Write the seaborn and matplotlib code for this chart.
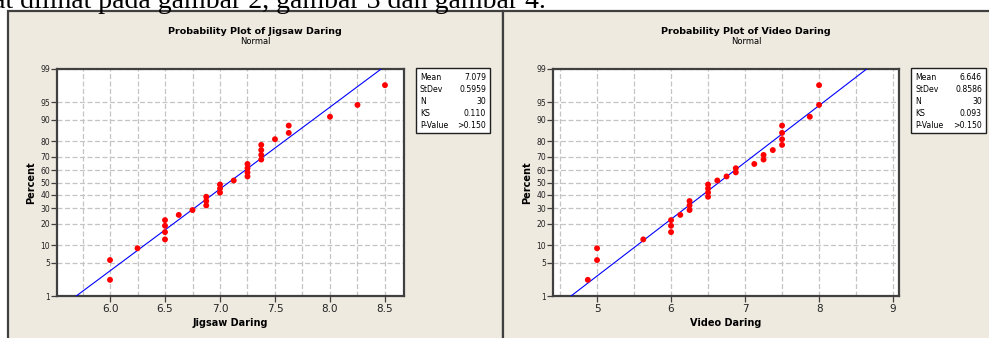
import numpy as np
import matplotlib
matplotlib.use('Agg')
import matplotlib.pyplot as plt
import seaborn as sns
from statistics import NormalDist
from matplotlib.patches import Rectangle
from matplotlib.ticker import FixedLocator, MultipleLocator

# values
jigsaw = [6.0, 6.0, 6.25, 6.5, 6.5, 6.5, 6.5, 6.625, 6.75, 6.875, 6.875, 6.875,
          7.0, 7.0, 7.0, 7.125, 7.25, 7.25, 7.25, 7.25, 7.375, 7.375, 7.375, 7.375,
          7.5, 7.625, 7.625, 8.0, 8.25, 8.5]
video = [4.875, 5.0, 5.0, 5.625, 6.0, 6.0, 6.0, 6.125, 6.25, 6.25, 6.25,
         6.5, 6.5, 6.5, 6.5, 6.625, 6.75, 6.875, 6.875, 7.125, 7.25, 7.25, 7.375,
         7.5, 7.5, 7.5, 7.5, 7.875, 8.0, 8.0]

stat_names = ['Mean', 'StDev', 'N', 'KS', 'P-Value']
stats_jigsaw = ['7.079', '0.5959', '30', '0.110', '>0.150']
stats_video = ['6.646', '0.8586', '30', '0.093', '>0.150']

pct_ticks = [1, 5, 10, 20, 30, 40, 50, 60, 70, 80, 90, 95, 99]
jig_ticks = [6.0, 6.5, 7.0, 7.5, 8.0, 8.5]
jig_labels = ['6.0', '6.5', '7.0', '7.5', '8.0', '8.5']
vid_ticks = [5, 6, 7, 8, 9]
vid_labels = ['5', '6', '7', '8', '9']

W, H = 989, 338
BEIGE = '#eeeae0'
EDGE = '#404040'
GRID = '#c4c4c4'

sns.set_theme(style='white')
plt.rcParams['font.family'] = ['DejaVu Sans']
plt.rcParams['text.color'] = 'black'
plt.rcParams['axes.labelcolor'] = 'black'
plt.rcParams['xtick.color'] = '#222222'
plt.rcParams['ytick.color'] = '#222222'

nd = NormalDist()
fwd = np.vectorize(lambda p: nd.inv_cdf(min(max(p / 100.0, 1e-6), 1 - 1e-6)), otypes=[float])
inv = np.vectorize(lambda z: nd.cdf(z) * 100.0, otypes=[float])

fig = plt.figure(figsize=(W / 100, H / 100), dpi=100)
fig.patch.set_facecolor('white')


def fx(px):
    return px / W


def fy(py):
    return 1 - py / H


# page text above the figures (cut at the top, as in the scan)
fig.text(fx(546), fy(8), 'dapat dilihat pada gambar 2, gambar 3 dan gambar 4.',
         ha='right', va='baseline', fontsize=20, family='Liberation Serif', color='black')

# panel backgrounds
for x0, x1 in [(8, 503), (503, 992)]:
    fig.patches.append(Rectangle((fx(x0), fy(345)), fx(x1 - x0), (345 - 11) / H,
                                 transform=fig.transFigure, facecolor=BEIGE,
                                 edgecolor=EDGE, lw=1.6, zorder=0))

panels = [
    dict(data=jigsaw, stats=stats_jigsaw, title='Probability Plot of Jigsaw Daring',
         xlabel='Jigsaw Daring', xlim=(5.518, 8.673), ticks=jig_ticks, labels=jig_labels,
         minor=0.25, ax_px=(57, 404), box_px=(416, 490), cx=255),
    dict(data=video, stats=stats_video, title='Probability Plot of Video Daring',
         xlabel='Video Daring', xlim=(4.405, 9.08), ticks=vid_ticks, labels=vid_labels,
         minor=0.5, ax_px=(553, 899), box_px=(911, 986), cx=746),
]

for p in panels:
    a0, a1 = p['ax_px']
    ax = fig.add_axes([fx(a0), fy(296), fx(a1 - a0), (296 - 69) / H])
    ax.set_facecolor('white')
    ax.set_zorder(2)

    vals = np.sort(np.asarray(p['data']))
    n = len(vals)
    pos = (np.arange(1, n + 1) - 0.3) / (n + 0.4) * 100.0
    mean, sd = vals.mean(), vals.std(ddof=1)
    z_end = np.array([-4.0, 4.0])
    line_x = mean + sd * z_end
    line_y = inv(z_end)

    ax.set_yscale('function', functions=(fwd, inv))
    sns.lineplot(x=line_x, y=line_y, ax=ax, color='#0000ff', lw=0.8, sort=False, zorder=3)
    sns.scatterplot(x=vals, y=pos, ax=ax, color='#ff0000', s=18, edgecolor='none',
                    linewidth=0, zorder=4)

    ax.set_xlim(*p['xlim'])
    ax.set_ylim(1, 99)
    ax.yaxis.set_major_locator(FixedLocator(pct_ticks))
    ax.set_yticklabels([str(t) for t in pct_ticks])
    ax.yaxis.set_minor_locator(FixedLocator([]))
    ax.set_xticks(p['ticks'])
    ax.set_xticklabels(p['labels'])
    ax.xaxis.set_minor_locator(MultipleLocator(p['minor']))

    ax.grid(True, which='both', axis='x', color=GRID, ls=(0, (4, 2)), lw=0.9)
    ax.grid(True, which='major', axis='y', color=GRID, ls=(0, (4, 2)), lw=0.9)
    ax.tick_params(axis='x', which='major', direction='out', length=4, width=0.9,
                   color=EDGE, labelsize=7.5, pad=2, bottom=True)
    ax.tick_params(axis='x', which='minor', length=0)
    ax.tick_params(axis='y', which='major', direction='out', length=4, width=0.9,
                   color=EDGE, labelsize=5.5, pad=1, left=True)
    for s in ax.spines.values():
        s.set_color(EDGE)
        s.set_linewidth(1.6)

    ax.set_xlabel(p['xlabel'], fontsize=7, fontweight='bold', labelpad=3)
    ax.set_ylabel('Percent', fontsize=7, fontweight='bold', labelpad=3)

    fig.text(fx(p['cx']), fy(31), p['title'], ha='center', va='center',
             fontsize=6.8, fontweight='bold')
    fig.text(fx(p['cx']), fy(41), 'Normal', ha='center', va='center', fontsize=6)

    # stats box
    b0, b1 = p['box_px']
    fig.patches.append(Rectangle((fx(b0), fy(133)), fx(b1 - b0), (133 - 68) / H,
                                 transform=fig.transFigure, facecolor='white',
                                 edgecolor='#202020', lw=1.0, zorder=1))
    for i, (name, val) in enumerate(zip(stat_names, p['stats'])):
        yy = fy(77.5 + i * 12.1)
        fig.text(fx(b0 + 4), yy, name, ha='left', va='center', fontsize=5.6)
        fig.text(fx(b1 - 4), yy, val, ha='right', va='center', fontsize=5.6)

fig.savefig('out.png', dpi=100)
